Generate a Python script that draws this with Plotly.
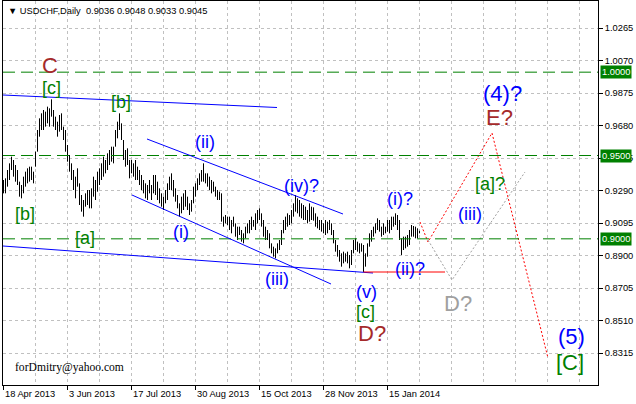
import plotly.graph_objects as go

# ---------------- data ----------------
highs = [0.9353, 0.9363, 0.9413, 0.9453, 0.9493, 0.9473, 0.9443, 0.9413, 0.9343, 0.9323,
         0.9373, 0.9403, 0.9423, 0.9433, 0.9433, 0.9403, 0.9523, 0.9653, 0.9723, 0.9753,
         0.9773, 0.9763, 0.9793, 0.9783, 0.9837, 0.9773, 0.9733, 0.9703, 0.9743, 0.9753,
         0.9673, 0.9653, 0.9563, 0.9503, 0.9453, 0.9413, 0.9373, 0.9423, 0.9333, 0.9263,
         0.9233, 0.9273, 0.9293, 0.9293, 0.9303, 0.9373, 0.9353, 0.9403, 0.9423, 0.9453,
         0.9493, 0.9473, 0.9513, 0.9533, 0.9553, 0.9553, 0.9653, 0.9703, 0.9753, 0.9693,
         0.9593, 0.9533, 0.9543, 0.9473, 0.9473, 0.9453, 0.9473, 0.9433, 0.9413, 0.9383,
         0.9353, 0.9333, 0.9323, 0.9353, 0.9323, 0.9383, 0.9383, 0.9343, 0.9303, 0.9273,
         0.9253, 0.9293, 0.9333, 0.9373, 0.9393, 0.9353, 0.9303, 0.9263, 0.9213, 0.9253,
         0.9273, 0.9293, 0.9253, 0.9213, 0.9233, 0.9313, 0.9333, 0.9363, 0.9393, 0.9413,
         0.9453, 0.9393, 0.9393, 0.9373, 0.9353, 0.9343, 0.9313, 0.9293, 0.9283, 0.9273,
         0.9133, 0.9143, 0.9133, 0.9133, 0.9113, 0.9133, 0.9093, 0.9073, 0.9073, 0.9053,
         0.9033, 0.9073, 0.9093, 0.9113, 0.9133, 0.9113, 0.9153, 0.9173, 0.9183, 0.9153,
         0.9113, 0.9073, 0.9053, 0.9033, 0.8973, 0.8953, 0.8943, 0.8973, 0.8993, 0.9053,
         0.9113, 0.9133, 0.9153, 0.9143, 0.9173, 0.9213, 0.9263, 0.9243, 0.9233, 0.9213,
         0.9203, 0.9193, 0.9173, 0.9213, 0.9193, 0.9189, 0.9153, 0.9133, 0.9113, 0.9113,
         0.9093, 0.9113, 0.9103, 0.9113, 0.9093, 0.9053, 0.8993, 0.8963, 0.8933, 0.8913,
         0.8923, 0.8913, 0.8923, 0.8903, 0.8933, 0.8993, 0.9003, 0.8983, 0.8973, 0.8973,
         0.8963, 0.8913, 0.8973, 0.9033, 0.9053, 0.9073, 0.9093, 0.9123, 0.9113, 0.9073,
         0.9093, 0.9073, 0.9113, 0.9113, 0.9133, 0.9133, 0.9153, 0.9143, 0.9113, 0.9003,
         0.9013, 0.9013, 0.9023, 0.9053, 0.9083, 0.9077, 0.9073, 0.9063, 0.9048]

lows = [0.9273, 0.9273, 0.9313, 0.9353, 0.9413, 0.9373, 0.9343, 0.9323, 0.9253, 0.9243,
        0.9273, 0.9313, 0.9333, 0.9343, 0.9353, 0.9333, 0.9433, 0.9523, 0.9613, 0.9653,
        0.9653, 0.9673, 0.9693, 0.9673, 0.9733, 0.9673, 0.9653, 0.9613, 0.9643, 0.9653,
        0.9593, 0.9523, 0.9463, 0.9403, 0.9353, 0.9293, 0.9243, 0.9313, 0.9203, 0.9163,
        0.9133, 0.9193, 0.9203, 0.9183, 0.9183, 0.9253, 0.9233, 0.9283, 0.9323, 0.9353,
        0.9373, 0.9393, 0.9413, 0.9443, 0.9463, 0.9453, 0.9553, 0.9603, 0.9653, 0.9593,
        0.9473, 0.9433, 0.9443, 0.9363, 0.9393, 0.9373, 0.9353, 0.9353, 0.9323, 0.9293,
        0.9273, 0.9243, 0.9233, 0.9273, 0.9233, 0.9273, 0.9263, 0.9233, 0.9213, 0.9193,
        0.9173, 0.9213, 0.9233, 0.9293, 0.9293, 0.9253, 0.9223, 0.9183, 0.9133, 0.9153,
        0.9173, 0.9193, 0.9173, 0.9143, 0.9163, 0.9213, 0.9253, 0.9293, 0.9323, 0.9343,
        0.9343, 0.9333, 0.9313, 0.9293, 0.9273, 0.9283, 0.9253, 0.9233, 0.9233, 0.9103,
        0.9073, 0.9093, 0.9083, 0.9053, 0.9033, 0.9073, 0.9013, 0.8993, 0.9023, 0.8983,
        0.8973, 0.9003, 0.9033, 0.9033, 0.9053, 0.9073, 0.9053, 0.9093, 0.9113, 0.9073,
        0.9013, 0.8993, 0.8993, 0.8943, 0.8913, 0.8893, 0.8883, 0.8913, 0.8933, 0.8963,
        0.9033, 0.9053, 0.9073, 0.9083, 0.9093, 0.9133, 0.9163, 0.9153, 0.9133, 0.9123,
        0.9113, 0.9113, 0.9093, 0.9103, 0.9113, 0.9109, 0.9073, 0.9063, 0.9053, 0.9043,
        0.9033, 0.9023, 0.9033, 0.9053, 0.9023, 0.8973, 0.8923, 0.8893, 0.8863, 0.8833,
        0.8853, 0.8863, 0.8853, 0.8823, 0.8843, 0.8913, 0.8933, 0.8923, 0.8913, 0.8923,
        0.8801, 0.8833, 0.8893, 0.8953, 0.8983, 0.9013, 0.9033, 0.9053, 0.9043, 0.9013,
        0.9023, 0.9033, 0.9043, 0.9033, 0.9053, 0.9073, 0.9083, 0.9053, 0.8993, 0.8903,
        0.8933, 0.8943, 0.8953, 0.8963, 0.9013, 0.9013, 0.9003, 0.9003, 0.9033]

bar_index = list(range(len(highs)))

date_labels = ["18 Apr 2013", "3 Jun 2013", "17 Jul 2013", "30 Aug 2013",
               "15 Oct 2013", "28 Nov 2013", "15 Jan 2014"]
date_index = [0, 32, 64, 96, 128, 160, 192]

price_ticks = [1.0265, 1.0070, 0.9875, 0.9680, 0.9485, 0.9290,
               0.9095, 0.8900, 0.8705, 0.8510, 0.8315]

levels = [1.0000, 0.9500, 0.9000]

title_text = "\u25bc USDCHF,Daily  0.9036 0.9048 0.9033 0.9045"

# trend lines: (x0, y0, x1, y1) in bar index / price
blue_lines = [
    (-0.25, 0.9863, 136.75, 0.9788),
    (71.75, 0.9599, 169.75, 0.9149),
    (64.25, 0.9263, 163.75, 0.8729),
    (-0.25, 0.8957, 184.75, 0.8795),
]
red_level = (180, 220.75, 0.8801)

red_path_x = [208.25, 212.25, 244.25, 272.25]
red_path_y = [0.9101, 0.8981, 0.9635, 0.8285]
gray_path_x = [212.25, 224.25, 260.75]
gray_path_y = [0.8993, 0.8753, 0.9401]

BLUE = "#0000FF"
GREEN = "#008000"
BROWN = "#A52A2A"
GRAY = "#A0A0A0"

wave_labels = [
    ("C", 23.0, 1.0043, BROWN, 22),
    ("[c]", 23.75, 0.9905, GREEN, 18),
    ("[b]", 58.75, 0.9821, GREEN, 18),
    ("[b]", 10.75, 0.9149, GREEN, 18),
    ("[a]", 40.75, 0.9005, GREEN, 18),
    ("(i)", 88.75, 0.9041, BLUE, 18),
    ("(ii)", 100.75, 0.9581, BLUE, 18),
    ("(iii)", 136.75, 0.8759, BLUE, 18),
    ("(iv)?", 148.75, 0.9317, BLUE, 18),
    ("(v)", 181.25, 0.8681, BLUE, 18),
    ("[c]", 180.75, 0.8561, GREEN, 18),
    ("D?", 184.25, 0.8435, BROWN, 22),
    ("(i)?", 198.25, 0.9239, BLUE, 18),
    ("(ii)?", 203.25, 0.8819, BLUE, 18),
    ("(iii)", 233.25, 0.9149, BLUE, 18),
    ("[a]?", 243.25, 0.9329, GREEN, 18),
    ("D?", 227.25, 0.8615, GRAY, 22),
    ("(4)?", 249.25, 0.9875, BLUE, 22),
    ("E?", 247.75, 0.9731, BROWN, 22),
    ("(5)", 283.75, 0.8417, BLUE, 22),
    ("[C]", 283.25, 0.8261, GREEN, 22),
]

SMALL = dict(family="Liberation Sans, Arial, sans-serif", size=9.3, color="black")
LBL = "Liberation Sans, Arial, sans-serif"

# ---------------- figure ----------------
fig = go.Figure()

bx, by = [], []
for i, h, l in zip(bar_index, highs, lows):
    bx += [i, i, None]
    by += [l, h, None]
fig.add_trace(go.Scatter(x=bx, y=by, mode="lines",
                         line=dict(color="black", width=1),
                         hoverinfo="skip", showlegend=False))

fig.add_trace(go.Scatter(x=red_path_x, y=red_path_y, mode="lines",
                         line=dict(color="#FF0000", width=1, dash="2px,2px"),
                         hoverinfo="skip", showlegend=False))
fig.add_trace(go.Scatter(x=gray_path_x, y=gray_path_y, mode="lines",
                         line=dict(color=GRAY, width=1, dash="2px,2px"),
                         hoverinfo="skip", showlegend=False))

shapes = []
for lv in levels:
    shapes.append(dict(type="line", xref="paper", yref="y", x0=0, x1=1, y0=lv, y1=lv,
                       line=dict(color=GREEN, width=1, dash="12px,6px")))
for (x0, y0, x1, y1) in blue_lines:
    shapes.append(dict(type="line", xref="x", yref="y", x0=x0, y0=y0, x1=x1, y1=y1,
                       line=dict(color=BLUE, width=1)))
shapes.append(dict(type="line", xref="x", yref="y", x0=red_level[0], x1=red_level[1],
                   y0=red_level[2], y1=red_level[2], line=dict(color="#FF0000", width=1)))

annotations = []
for text, xi, yp, col, sz in wave_labels:
    annotations.append(dict(text=text, x=xi, y=yp, xref="x", yref="y",
                            showarrow=False, xanchor="center", yanchor="middle",
                            font=dict(family=LBL, size=sz, color=col)))

for lbl, di in zip(date_labels, date_index):
    annotations.append(dict(text=lbl, x=di, y=0, xref="x", yref="paper",
                            xanchor="left", yanchor="top", yshift=-2, xshift=-1,
                            showarrow=False, font=SMALL))

for lv in levels:
    annotations.append(dict(text=f"{lv:.4f}", x=1, y=lv, xref="paper", yref="y",
                            xanchor="left", yanchor="middle", xshift=2,
                            showarrow=False, bgcolor=GREEN, borderpad=1,
                            font=dict(family=SMALL["family"], size=9.3, color="white")))

annotations.append(dict(text=title_text, x=0, y=1, xref="paper", yref="paper",
                        xanchor="left", yanchor="top", xshift=3, yshift=-3,
                        showarrow=False, font=SMALL))

annotations.append(dict(text="forDmitry@yahoo.com", x=4.75, y=0.8231, xref="x", yref="y",
                        xanchor="left", yanchor="middle", showarrow=False,
                        font=dict(family="Liberation Serif, Times New Roman, serif",
                                  size=11.6, color="black")))

fig.update_layout(
    width=636, height=404,
    margin=dict(l=3, r=38, t=1, b=19, pad=0),
    paper_bgcolor="white", plot_bgcolor="white",
    showlegend=False,
    shapes=shapes, annotations=annotations,
    xaxis=dict(range=[-0.25, 297.25], showgrid=True,
               tickvals=date_index, ticktext=[""] * len(date_index),
               ticks="outside", ticklen=4, tickcolor="black",
               gridcolor="#C0C0C0", griddash="3px,3px", gridwidth=1,
               minor=dict(dtick=16, tick0=0, showgrid=True, gridcolor="#C0C0C0",
                          griddash="3px,3px", ticks=""),
               showline=True, linecolor="black", linewidth=1, mirror=True,
               zeroline=False, fixedrange=True),
    yaxis=dict(range=[0.8123, 1.0427], side="right",
               tickvals=price_ticks, ticktext=[f"{v:.4f}" for v in price_ticks],
               ticks="outside", ticklen=4, tickcolor="black",
               tickfont=SMALL,
               showgrid=True, gridcolor="#C0C0C0", griddash="3px,3px", gridwidth=1,
               showline=True, linecolor="black", linewidth=1, mirror=True,
               zeroline=False, fixedrange=True),
)

fig.write_html("out.html", config={"displayModeBar": False},
               post_script="document.body.style.margin='0';document.body.style.padding='0';")
